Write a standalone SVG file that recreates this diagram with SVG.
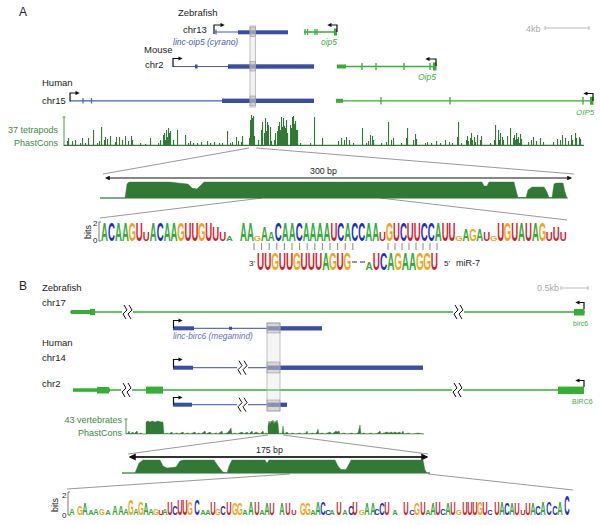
<svg xmlns="http://www.w3.org/2000/svg" xmlns:xlink="http://www.w3.org/1999/xlink" width="600" height="525" viewBox="0 0 600 525">
<style>
text{font-family:"Liberation Sans",Arial,sans-serif}
.lbl{font-size:9.5px;fill:#222}
.pl{font-size:12px;fill:#222}
.gn{font-size:8.5px;fill:#3cb03c;font-style:italic}
.ln{font-size:8.5px;fill:#4a5bb0;font-style:italic}
.trk{font-size:9px;fill:#3d8a3d;text-anchor:end}
.sc{font-size:9px;fill:#aaa}
.bl{fill:#3a4ea5}
.bline{stroke:#4a5db0;stroke-width:1.2;fill:none}
.gr{fill:#33b033}
.gline{stroke:#33b033;stroke-width:1.3;fill:none}
.prom{stroke:#111;stroke-width:1.2;fill:none}
.zl{stroke:#999;stroke-width:1;fill:none}
.dk{fill:#317a35;stroke:#317a35;stroke-width:0.4}
.sp{fill:#317a35}
.lg{font-weight:bold;text-anchor:middle}
.la{fill:#2faa3a}.lc{fill:#1f2fc0}.lgg{fill:#f2a51a}.lu{fill:#d31c2c}
.tick{stroke:#888;stroke-width:1}
</style>
<defs>
<marker id="ar" viewBox="0 0 10 10" refX="6" refY="5" markerWidth="3.5" markerHeight="3.5" orient="auto"><path d="M0,0 L10,5 L0,10 z" fill="#111"/></marker>
<marker id="ab" viewBox="0 0 10 10" refX="8" refY="5" markerWidth="4" markerHeight="4" orient="auto-start-reverse"><path d="M0,0 L10,5 L0,10 z" fill="#111"/></marker>
<g id="brk"><rect x="-6" y="-2" width="11" height="4" fill="#fff"/><path d="M-4,-7 L-1,-2 L-5,2 L-2,7 M1,-7 L4,-2 L0,2 L3,7" stroke="#111" stroke-width="1" fill="none"/></g>
</defs>

<g id="panelA-labels">
<text class="pl" x="19" y="16">A</text>
<text class="lbl" x="178" y="16">Zebrafish</text>
<text class="lbl" x="183" y="33">chr13</text>
<text class="ln" x="173" y="45">linc-oip5 (cyrano)</text>
<text class="lbl" x="144" y="53">Mouse</text>
<text class="lbl" x="145" y="68">chr2</text>
<text class="lbl" x="42" y="86">Human</text>
<text class="lbl" x="42" y="104">chr15</text>
<text class="sc" x="526" y="31.5">4kb</text>
<path d="M545,28 H589 M545,26 V30 M589,26 V30" stroke="#aaa" stroke-width="0.8"/>
</g>

<g id="zf-cyrano">
<path class="bline" d="M215,32 H238 M216,29.5 V34.5"/>
<rect class="bl" x="238" y="30.3" width="50" height="4"/>
<path class="prom" d="M214,34 V25 H223" marker-end="url(#ar)"/>
</g>
<g id="zf-oip5">
<path class="gline" d="M304,32 H336 M305,29 V35 M307.5,29 V35 M315,29 V35 M317,29 V35"/>
<rect class="gr" x="334" y="28.5" width="3" height="7"/>
<path class="prom" d="M337,32 V25 H329" marker-end="url(#ar)"/>
<text class="gn" x="321" y="45">oip5</text>
</g>
<g id="mm-cyrano">
<path class="bline" d="M173,66.5 H228"/>
<rect class="bl" x="195" y="64.5" width="2.5" height="4"/>
<rect class="bl" x="228" y="64.3" width="86" height="4.4"/>
<path class="prom" d="M173,67 V58.5 H181" marker-end="url(#ar)"/>
</g>
<g id="mm-oip5">
<path class="gline" d="M337,66.5 H436 M362,63 V70 M376,63 V70 M404,63 V70 M430,63 V70"/>
<rect class="gr" x="337" y="64.5" width="9" height="4"/>
<rect class="gr" x="433" y="62.5" width="3.5" height="8"/>
<path class="prom" d="M436,66 V59 H427" marker-end="url(#ar)"/>
<text class="gn" x="418" y="80">Oip5</text>
</g>
<g id="hs-cyrano">
<path class="bline" d="M70,100.8 H222 M83,98 V103.5 M91.5,98 V103.5"/>
<rect class="bl" x="222" y="98.6" width="92" height="4.4"/>
<path class="prom" d="M70,101.5 V93 H78" marker-end="url(#ar)"/>
</g>
<g id="hs-oip5">
<path class="gline" d="M336,100.8 H593 M381,97 V104.5 M450,97 V104.5 M583,97 V104.5"/>
<rect class="gr" x="336" y="98.8" width="7" height="4"/>
<rect class="gr" x="590" y="96.8" width="3.5" height="8"/>
<path class="prom" d="M593,101 V93.5 H585" marker-end="url(#ar)"/>
<text class="gn" x="576" y="115" style="font-size:8px">OIP5</text>
</g>
<g id="colA">
<rect x="250" y="26" width="5.5" height="81" fill="#e2e2e2" fill-opacity="0.45" stroke="#aaa" stroke-width="0.7"/>
<rect x="250" y="27" width="5.5" height="9.5" fill="#aaa" fill-opacity="0.45" stroke="#999" stroke-width="0.6"/>
<rect x="250" y="61.5" width="5.5" height="9.5" fill="#aaa" fill-opacity="0.45" stroke="#999" stroke-width="0.6"/>
<rect x="250" y="96" width="5.5" height="9.5" fill="#aaa" fill-opacity="0.45" stroke="#999" stroke-width="0.6"/>
</g>

<g id="trackA">
<text class="trk" x="58" y="133">37 tetrapods</text>
<text class="trk" x="58" y="146">PhastCons</text>
<path d="M64,117 V146 M62.5,117 H65.5" stroke="#3d8a3d" stroke-width="0.9"/>
<path class="sp" d="M64 146V144.8H584V146z M67 146V141h1.1V146z M68 146V138h1.1V146z M72 146V141h1.1V146z M75 146V140h1.1V146z M80 146V143h1.1V146z M82 146V138h1.1V146z M85 146V143h1.1V146z M88 146V138h1.1V146z M93 146V130h1.1V146z M97 146V143h1.1V146z M99 146V141h1.1V146z M101 146V127h1.1V146z M104 146V140h1.1V146z M105 146V137h1.1V146z M107 146V139h1.1V146z M110 146V136h1.1V146z M115 146V142h1.1V146z M116 146V137h1.1V146z M119 146V137h1.1V146z M122 146V140h1.1V146z M125 146V136h1.1V146z M128 146V141h1.1V146z M131 146V136h1.1V146z M132 146V140h1.1V146z M140 146V143h1.1V146z M145 146V144h1.1V146z M150 146V138h1.1V146z M158 146V143h1.1V146z M160 146V140h1.1V146z M163 146V135h1.1V146z M164 146V133h1.1V146z M165 146V140h1.1V146z M166 146V130h1.1V146z M167 146V137h1.1V146z M168 146V128h1.1V146z M169 146V133h1.1V146z M170 146V131h1.1V146z M173 146V140h1.1V146z M177 146V130h1.1V146z M185 146V135h1.1V146z M188 146V143h1.1V146z M190 146V141h1.1V146z M193 146V143h1.1V146z M197 146V143h1.1V146z M201 146V142h1.1V146z M207 146V141h1.1V146z M210 146V143h1.1V146z M214 146V142h1.1V146z M219 146V143h1.1V146z M222 146V143h1.1V146z M227 146V131h1.1V146z M230 146V143h1.1V146z M232 146V142h1.1V146z M236 146V137h1.1V146z M238 146V141h1.1V146z M241 146V142h1.1V146z M242 146V136h1.1V146z M249 146V138h1.1V146z M250 146V120h1.1V146z M251 146V115h1.1V146z M252 146V118h1.1V146z M253 146V116h1.1V146z M254 146V136h1.1V146z M258 146V140h1.1V146z M261 146V130h1.1V146z M262 146V122h1.1V146z M264 146V133h1.1V146z M265 146V118h1.1V146z M266 146V131h1.1V146z M267 146V122h1.1V146z M268 146V125h1.1V146z M270 146V127h1.1V146z M271 146V141h1.1V146z M274 146V140h1.1V146z M275 146V133h1.1V146z M277 146V131h1.1V146z M278 146V126h1.1V146z M279 146V122h1.1V146z M280 146V130h1.1V146z M281 146V117h1.1V146z M282 146V127h1.1V146z M283 146V118h1.1V146z M284 146V126h1.1V146z M285 146V128h1.1V146z M286 146V120h1.1V146z M287 146V133h1.1V146z M290 146V125h1.1V146z M291 146V128h1.1V146z M292 146V117h1.1V146z M293 146V116h1.1V146z M294 146V124h1.1V146z M295 146V121h1.1V146z M296 146V130h1.1V146z M297 146V130h1.1V146z M300 146V143h1.1V146z M310 146V143h1.1V146z M314 146V117h1.1V146z M322 146V138h1.1V146z M338 146V141h1.1V146z M341 146V138h1.1V146z M344 146V140h1.1V146z M346 146V137h1.1V146z M349 146V140h1.1V146z M353 146V143h1.1V146z M362 146V128h1.1V146z M366 146V143h1.1V146z M368 146V141h1.1V146z M370 146V135h1.1V146z M372 146V136h1.1V146z M373 146V140h1.1V146z M381 146V143h1.1V146z M386 146V142h1.1V146z M388 146V122h1.1V146z M391 146V140h1.1V146z M393 146V138h1.1V146z M401 146V143h1.1V146z M406 146V138h1.1V146z M407 146V128h1.1V146z M413 146V140h1.1V146z M415 146V134h1.1V146z M416 146V139h1.1V146z M425 146V143h1.1V146z M427 146V142h1.1V146z M431 146V143h1.1V146z M436 146V141h1.1V146z M440 146V143h1.1V146z M445 146V140h1.1V146z M449 146V142h1.1V146z M452 146V143h1.1V146z M457 146V137h1.1V146z M458 146V122h1.1V146z M461 146V143h1.1V146z M466 146V140h1.1V146z M467 146V136h1.1V146z M468 146V141h1.1V146z M470 146V138h1.1V146z M471 146V133h1.1V146z M472 146V140h1.1V146z M474 146V137h1.1V146z M475 146V142h1.1V146z M477 146V135h1.1V146z M480 146V140h1.1V146z M481 146V136h1.1V146z M490 146V143h1.1V146z M494 146V140h1.1V146z M495 146V125h1.1V146z M498 146V130h1.1V146z M499 146V140h1.1V146z M500 146V133h1.1V146z M502 146V137h1.1V146z M503 146V140h1.1V146z M507 146V136h1.1V146z M510 146V128h1.1V146z M513 146V138h1.1V146z M514 146V135h1.1V146z M515 146V140h1.1V146z M516 146V133h1.1V146z M517 146V139h1.1V146z M518 146V137h1.1V146z M519 146V143h1.1V146z M520 146V134h1.1V146z M521 146V139h1.1V146z M528 146V142h1.1V146z M531 146V140h1.1V146z M533 146V137h1.1V146z M536 146V141h1.1V146z M540 146V138h1.1V146z M543 146V142h1.1V146z M553 146V142h1.1V146z M557 146V139h1.1V146z M560 146V140h1.1V146z M562 146V135h1.1V146z M565 146V138h1.1V146z M568 146V141h1.1V146z M571 146V135h1.1V146z M572 146V140h1.1V146z M575 146V133h1.1V146z M576 146V138h1.1V146z M579 146V137h1.1V146z M580 146V139h1.1V146z"/>
</g>

<g id="connectors">
<path class="zl" d="M249,148 L103,174 M256,148 L574,174 M100,218 L262,198 M380,198 L567,220"/>
<path class="zl" d="M268,435 L128,454 M283,435 L428,454 M67,489 L290,474 M428,474 L573,490"/>
<line x1="106" y1="178" x2="571" y2="178" stroke="#111" stroke-width="1.2" marker-start="url(#ab)" marker-end="url(#ab)"/>
<line x1="130" y1="457" x2="427" y2="457" stroke="#333" stroke-width="1.8" marker-start="url(#ab)" marker-end="url(#ab)"/>
<g id="pairs">
<path class="tick" d="M254,243 V250 M261.6,243 V250 M269.2,243 V250 M276.8,243 V250 M284.4,243 V250 M292,243 V250 M299.6,243 V250 M307.2,243 V250 M314.8,243 V250 M322.4,243 V250 M330,243 V250 M337.6,243 V250 M345.2,243 V250 M352.8,243 V250 M388,243 V250 M395,243 V250 M402,243 V250 M409,243 V250 M416,243 V250 M423,243 V250 M430,243 V250 M437,243 V250"/>
</g>
</g>

<g id="zoomA">
<text x="310" y="174" style="font-size:8.8px;fill:#222">300 bp</text>
<line x1="100" y1="198" x2="568" y2="198" stroke="#317a35" stroke-width="0.8"/>
<path class="dk" d="M100,198 L125,198 L127,184 L129,182 L170,182 L178,183 L188,184 L192,188 L197,189 L201,185 L204,182 L482,182 L484,186 L487,186 L489,182 L514,182 L516,190 L518,197.5 L526,197.5 L528,190 L532,187 L544,187 L547,192 L549,197.5 L552,197.5 L554,184 L556,183 L563,183 L565,192 L567,198 Z"/>
</g>

<g id="logoA">
<text x="91" y="232" transform="rotate(-90 91 232)" style="font-size:9px;fill:#222;text-anchor:middle">bits</text>
<text x="93" y="226" style="font-size:8px;fill:#222">2</text>
<text x="93" y="243" style="font-size:8px;fill:#222">0</text>
<path d="M99,222 V241 M99,222 H101 M99,241 H101" stroke="#444" stroke-width="0.7" fill="none"/>
<text class="lg" transform="translate(0,241) scale(1,2.77)" style="font-size:9.6px"><tspan class="la" x="104.5" y="0">A</tspan><tspan class="lc" x="111.5" y="0">C</tspan><tspan class="la" x="118.4" y="0">A</tspan><tspan class="la" x="125.4" y="0">A</tspan><tspan class="lgg" x="132.3" y="0">G</tspan><tspan class="lu" x="139.3" y="0">U</tspan><tspan class="la" x="153.2" y="0">A</tspan><tspan class="lc" x="160.1" y="0">C</tspan><tspan class="la" x="167.1" y="0">A</tspan><tspan class="la" x="174" y="0">A</tspan><tspan class="lgg" x="181" y="0">G</tspan><tspan class="lu" x="187.9" y="0">U</tspan><tspan class="lu" x="194.9" y="0">U</tspan><tspan class="lgg" x="201.8" y="0">G</tspan><tspan class="lu" x="208.8" y="0">U</tspan><tspan class="la" x="243.5" y="0">A</tspan><tspan class="la" x="250.5" y="0">A</tspan><tspan class="lc" x="278.3" y="0">C</tspan><tspan class="la" x="285.2" y="0">A</tspan><tspan class="la" x="292.2" y="0">A</tspan><tspan class="lc" x="299.1" y="0">C</tspan><tspan class="la" x="306.1" y="0">A</tspan><tspan class="la" x="313" y="0">A</tspan><tspan class="la" x="320" y="0">A</tspan><tspan class="la" x="326.9" y="0">A</tspan><tspan class="lu" x="333.9" y="0">U</tspan><tspan class="lc" x="340.8" y="0">C</tspan><tspan class="la" x="347.8" y="0">A</tspan><tspan class="lc" x="354.7" y="0">C</tspan><tspan class="lc" x="361.7" y="0">C</tspan><tspan class="la" x="368.6" y="0">A</tspan><tspan class="la" x="375.6" y="0">A</tspan><tspan class="lgg" x="389.5" y="0">G</tspan><tspan class="lu" x="396.4" y="0">U</tspan><tspan class="lc" x="403.4" y="0">C</tspan><tspan class="lu" x="410.3" y="0">U</tspan><tspan class="lu" x="417.3" y="0">U</tspan><tspan class="lc" x="424.2" y="0">C</tspan><tspan class="lc" x="431.2" y="0">C</tspan><tspan class="la" x="438.1" y="0">A</tspan><tspan class="lu" x="445.1" y="0">U</tspan><tspan class="lu" x="452" y="0">U</tspan><tspan class="lu" x="500.7" y="0">U</tspan><tspan class="lgg" x="507.6" y="0">G</tspan><tspan class="lu" x="514.6" y="0">U</tspan><tspan class="la" x="521.5" y="0">A</tspan><tspan class="lu" x="528.5" y="0">U</tspan><tspan class="la" x="535.4" y="0">A</tspan><tspan class="lgg" x="542.4" y="0">G</tspan></text>
<text class="lg" transform="translate(0,241) scale(1,2.2)" style="font-size:9.6px"><tspan class="lu" x="215.7" y="0">U</tspan><tspan class="la" x="264.4" y="0">A</tspan><tspan class="lu" x="556.3" y="0">U</tspan></text>
<text class="lg" transform="translate(0,241) scale(1,1.8)" style="font-size:9.6px"><tspan class="la" x="465.9" y="0">A</tspan><tspan class="lgg" x="472.9" y="0">G</tspan><tspan class="la" x="479.8" y="0">A</tspan></text>
<text class="lg" transform="translate(0,241) scale(1,1.25)" style="font-size:9.6px"><tspan class="lu" x="146.2" y="0">U</tspan><tspan class="lu" x="222.7" y="0">U</tspan><tspan class="la" x="271.3" y="0">A</tspan><tspan class="lu" x="382.5" y="0">U</tspan><tspan class="lu" x="486.8" y="0">U</tspan><tspan class="lu" x="549.3" y="0">U</tspan><tspan class="lu" x="563.2" y="0">U</tspan></text>
<text class="lg" transform="translate(0,241) scale(1,0.7)" style="font-size:9.6px"><tspan class="la" x="229.6" y="0">A</tspan><tspan class="lgg" x="257.4" y="0">G</tspan><tspan class="lgg" x="459" y="0">G</tspan><tspan class="lgg" x="493.7" y="0">G</tspan></text>
</g>

<g id="mir7">
<text x="249" y="266" style="font-size:8px;fill:#222">3'</text>
<text class="lg" transform="translate(0,270) scale(1,2.37)" style="font-size:10px"><tspan class="lu" x="260.6" y="0">U</tspan><tspan class="lu" x="267.8" y="0">U</tspan><tspan class="lgg" x="275.1" y="0">G</tspan><tspan class="lu" x="282.3" y="0">U</tspan><tspan class="lu" x="289.6" y="0">U</tspan><tspan class="lgg" x="296.8" y="0">G</tspan><tspan class="lu" x="304" y="0">U</tspan><tspan class="lu" x="311.3" y="0">U</tspan><tspan class="lu" x="318.5" y="0">U</tspan><tspan class="la" x="325.8" y="0">A</tspan><tspan class="lgg" x="333" y="0">G</tspan><tspan class="lu" x="340.2" y="0">U</tspan><tspan class="lgg" x="347.5" y="0">G</tspan><tspan class="lu" x="376.4" y="0">U</tspan><tspan class="lc" x="383.7" y="0">C</tspan><tspan class="la" x="390.9" y="0">A</tspan><tspan class="lgg" x="398.2" y="0">G</tspan><tspan class="la" x="405.4" y="0">A</tspan><tspan class="la" x="412.6" y="0">A</tspan><tspan class="lgg" x="419.9" y="0">G</tspan><tspan class="lgg" x="427.1" y="0">G</tspan><tspan class="lu" x="434.4" y="0">U</tspan></text>
<text class="lg" transform="translate(0,270) scale(1,1.1)" style="font-size:10px"><tspan class="la" x="369.2" y="0">A</tspan></text>
<path d="M352,262 H357 M360,262 H365" stroke="#333" stroke-width="1.2"/>
<text x="444" y="266" style="font-size:8px;fill:#222">5'</text>
<text x="456" y="266" style="font-size:9px;fill:#222">miR-7</text>
</g>

<g id="panelB-labels">
<text class="pl" x="19" y="290">B</text>
<text class="lbl" x="42" y="291">Zebrafish</text>
<text class="lbl" x="42" y="306">chr17</text>
<text class="lbl" x="42" y="346">Human</text>
<text class="lbl" x="42" y="361">chr14</text>
<text class="lbl" x="42" y="387">chr2</text>
<text class="sc" x="537" y="291">0.5kb</text>
<path d="M561,288 H588 M561,286 V290 M588,286 V290" stroke="#aaa" stroke-width="0.8"/>
</g>

<g id="zf-birc6">
<path class="gline" d="M70,312 H585"/>
<rect class="gr" x="71" y="310" width="23" height="4"/>
<rect class="gr" x="90" y="308.8" width="5" height="6.4"/>
<use xlink:href="#brk" x="128" y="312"/>
<use xlink:href="#brk" x="459" y="312"/>
<rect class="gr" x="574" y="309" width="10.5" height="6.5"/>
<path class="prom" d="M584,309 V302.5 H577" marker-end="url(#ar)"/>
<text class="gn" x="573" y="326" style="font-size:7px;font-style:normal">birc6</text>
</g>
<g id="zf-megamind">
<path class="bline" d="M194,328.3 H267" style="stroke:#6070c0"/>
<rect class="bl" x="229" y="326.8" width="3" height="3"/>
<rect class="bl" x="173" y="326.3" width="21" height="4"/>
<rect class="bl" x="267" y="326.2" width="55" height="4.3"/>
<path class="prom" d="M173.5,328 V320.5 H181" marker-end="url(#ar)"/>
<text class="ln" x="173" y="339" style="font-size:8.3px;fill:#6070c0">linc-birc6 (megamind)</text>
</g>
<g id="hs-megamind-chr14">
<path class="bline" d="M193,367.7 H267" style="stroke:#6070c0"/>
<rect class="bl" x="173" y="365.7" width="20" height="4"/>
<rect class="bl" x="267" y="365.5" width="156" height="4.4"/>
<use xlink:href="#brk" x="243" y="367.7"/>
<path class="prom" d="M173.5,367.5 V359.5 H181" marker-end="url(#ar)"/>
</g>
<g id="hs-birc6">
<path class="gline" d="M73,390 H584"/>
<rect class="gr" x="73" y="388.3" width="37" height="3.5"/>
<rect class="gr" x="97" y="387" width="12" height="6.5"/>
<use xlink:href="#brk" x="127" y="390"/>
<rect class="gr" x="146" y="386.6" width="17" height="7"/>
<use xlink:href="#brk" x="458" y="390"/>
<rect class="gr" x="558" y="386.6" width="26" height="7.4"/>
<path class="prom" d="M584,387 V380.5 H577" marker-end="url(#ar)"/>
<text class="gn" x="572" y="404" style="font-size:7px;font-style:normal">BIRC6</text>
</g>
<g id="hs-megamind-chr2">
<path class="bline" d="M192,404.7 H267" style="stroke:#6070c0"/>
<rect class="bl" x="173" y="402.7" width="19" height="4"/>
<rect class="bl" x="267" y="402.6" width="20" height="4.3"/>
<use xlink:href="#brk" x="243" y="404.7"/>
<path class="prom" d="M173.5,404.5 V397.5 H181" marker-end="url(#ar)"/>
</g>
<g id="colB">
<rect x="267" y="323" width="13" height="88" fill="#e2e2e2" fill-opacity="0.35" stroke="#aaa" stroke-width="0.7"/>
<rect x="267" y="323" width="13" height="10" fill="#aaa" fill-opacity="0.4" stroke="#999" stroke-width="0.6"/>
<rect x="267" y="362" width="13" height="11" fill="#aaa" fill-opacity="0.4" stroke="#999" stroke-width="0.6"/>
<rect x="267" y="400" width="13" height="11" fill="#aaa" fill-opacity="0.4" stroke="#999" stroke-width="0.6"/>
</g>

<g id="trackB">
<text class="trk" x="122" y="423">43 vertebrates</text>
<text class="trk" x="122" y="436">PhastCons</text>
<path d="M126,419 V434 M124.5,419 H127.5" stroke="#3d8a3d" stroke-width="0.9"/>
<path class="dk" d="M126,434 L128,433 129,431 130,434 133,432 134,434 137,431 138,434 141,433 143,434 146,434 146,422 148,421 150,422 152,421 155,422 158,421 161,422 163,422 164,434 167,433 169,434 172,432 173,434 177,433 179,434 183,432 184,434 188,433 190,434 195,432 196,434 199,433 201,434 205,431 206,434 210,432 212,434 216,433 218,434 222,431 223,434 227,433 229,431 231,428 232,434 235,433 237,434 242,432 244,434 247,432 249,434 252,431 253,434 256,432 258,433 260,434 263,431 264,434 266,433 268,434 268,426 269,421 270,424 271,421 272,422 273,420 274,424 275,421 276,423 277,420 278,424 279,434 281,433 282,434 283,426 284,434 287,432 289,434 293,433 295,434 300,433 302,434 306,433 307,431 308,434 313,433 315,434 317,432 318,429 319,434 322,433 325,434 330,432 332,434 336,431 337,432 339,431 340,434 344,433 347,434 352,433 354,434 358,433 360,425 361,434 364,433 367,434 371,433 374,434 378,433 380,431 381,434 384,433 387,432 389,433 391,432 393,433 395,432 397,433 400,432 401,434 403,431 404,434 408,433 412,434 418,433 424,434 Z"/>
</g>

<g id="zoomB">
<text x="256" y="453" style="font-size:8.8px;fill:#222">175 bp</text>
<line x1="122" y1="473" x2="430" y2="473" stroke="#317a35" stroke-width="0.8"/>
<path class="dk" d="M122,473 L135,473 L139,463 L143,460 L160,460 L163,466 L167,468 L176,467 L180,461 L183,460 L214,460 L218,466 L223,472 L227,473 L229,466 L232,460 L265,460 L267,463 L269,460 L335,460 L338,466 L341,469.5 L346,469.5 L349,464 L351,460 L423,460 L425,470 L427,473 L430,473 Z"/>
</g>

<g id="logoB">
<text x="58" y="505" transform="rotate(-90 58 505)" style="font-size:9px;fill:#222;text-anchor:middle">bits</text>
<text x="62" y="498" style="font-size:8px;fill:#222">2</text>
<text x="62" y="518" style="font-size:8px;fill:#222">0</text>
<path d="M68,492 V515 M68,492 H70 M68,515 H70" stroke="#444" stroke-width="0.7" fill="none"/>
<text class="lg" transform="translate(0,515) scale(1,3.64)" style="font-size:7.5px"><tspan class="lc" x="567" y="0">C</tspan></text>
<text class="lg" transform="translate(0,515) scale(1,3.0)" style="font-size:7.5px"><tspan class="lgg" x="131" y="0">G</tspan><tspan class="lu" x="180" y="0">U</tspan><tspan class="lu" x="185" y="0">U</tspan><tspan class="lc" x="197" y="0">C</tspan></text>
<text class="lg" transform="translate(0,515) scale(1,2.57)" style="font-size:7.5px"><tspan class="lgg" x="141" y="0">G</tspan><tspan class="lu" x="170" y="0">U</tspan><tspan class="lgg" x="190" y="0">G</tspan><tspan class="lu" x="213" y="0">U</tspan><tspan class="lu" x="229" y="0">U</tspan><tspan class="la" x="251" y="0">A</tspan><tspan class="lu" x="257" y="0">U</tspan><tspan class="la" x="318" y="0">A</tspan><tspan class="lc" x="323" y="0">C</tspan><tspan class="lu" x="339" y="0">U</tspan><tspan class="lu" x="355" y="0">U</tspan><tspan class="lu" x="387" y="0">U</tspan><tspan class="lu" x="406" y="0">U</tspan><tspan class="lu" x="423" y="0">U</tspan><tspan class="lu" x="438" y="0">U</tspan><tspan class="lu" x="453" y="0">U</tspan><tspan class="lu" x="465" y="0">U</tspan><tspan class="lu" x="470" y="0">U</tspan><tspan class="lu" x="475" y="0">U</tspan><tspan class="lgg" x="480" y="0">G</tspan><tspan class="lu" x="485" y="0">U</tspan><tspan class="lu" x="497" y="0">U</tspan><tspan class="la" x="502" y="0">A</tspan><tspan class="la" x="543" y="0">A</tspan><tspan class="lc" x="549" y="0">C</tspan><tspan class="la" x="560" y="0">A</tspan></text>
<text class="lg" transform="translate(0,515) scale(1,2.14)" style="font-size:7.5px"><tspan class="la" x="85" y="0">A</tspan><tspan class="la" x="146" y="0">A</tspan><tspan class="lgg" x="235" y="0">G</tspan><tspan class="lgg" x="240" y="0">G</tspan><tspan class="la" x="267" y="0">A</tspan><tspan class="lu" x="272" y="0">U</tspan><tspan class="la" x="282" y="0">A</tspan><tspan class="lu" x="288" y="0">U</tspan><tspan class="lgg" x="303" y="0">G</tspan><tspan class="lgg" x="308" y="0">G</tspan><tspan class="la" x="367" y="0">A</tspan><tspan class="la" x="373" y="0">A</tspan><tspan class="lc" x="382" y="0">C</tspan><tspan class="lgg" x="417" y="0">G</tspan><tspan class="la" x="433" y="0">A</tspan><tspan class="la" x="448" y="0">A</tspan><tspan class="lc" x="507" y="0">C</tspan><tspan class="la" x="512" y="0">A</tspan><tspan class="lu" x="517" y="0">U</tspan><tspan class="lu" x="528" y="0">U</tspan><tspan class="la" x="533" y="0">A</tspan></text>
<text class="lg" transform="translate(0,515) scale(1,1.71)" style="font-size:7.5px"><tspan class="lgg" x="80" y="0">G</tspan><tspan class="la" x="115" y="0">A</tspan><tspan class="la" x="121" y="0">A</tspan><tspan class="lc" x="175" y="0">C</tspan><tspan class="lc" x="223" y="0">C</tspan><tspan class="lc" x="351" y="0">C</tspan><tspan class="lc" x="538" y="0">C</tspan><tspan class="lc" x="555" y="0">C</tspan></text>
<text class="lg" transform="translate(0,515) scale(1,1.28)" style="font-size:7.5px"><tspan class="la" x="72" y="0">A</tspan><tspan class="la" x="96" y="0">A</tspan><tspan class="lgg" x="102" y="0">G</tspan><tspan class="la" x="126" y="0">A</tspan><tspan class="la" x="136" y="0">A</tspan><tspan class="la" x="151" y="0">A</tspan><tspan class="lgg" x="156" y="0">G</tspan><tspan class="la" x="165" y="0">A</tspan><tspan class="lgg" x="218" y="0">G</tspan><tspan class="lc" x="377" y="0">C</tspan><tspan class="lc" x="443" y="0">C</tspan></text>
<text class="lg" transform="translate(0,515) scale(1,0.86)" style="font-size:7.5px"><tspan class="la" x="91" y="0">A</tspan><tspan class="la" x="108" y="0">A</tspan><tspan class="lu" x="161" y="0">U</tspan><tspan class="la" x="203" y="0">A</tspan><tspan class="la" x="208" y="0">A</tspan><tspan class="la" x="245" y="0">A</tspan><tspan class="la" x="262" y="0">A</tspan><tspan class="lu" x="294" y="0">U</tspan><tspan class="la" x="313" y="0">A</tspan><tspan class="lc" x="328" y="0">C</tspan><tspan class="la" x="332" y="0">A</tspan><tspan class="la" x="345" y="0">A</tspan><tspan class="lgg" x="362" y="0">G</tspan><tspan class="la" x="395" y="0">A</tspan><tspan class="lc" x="412" y="0">C</tspan><tspan class="la" x="428" y="0">A</tspan><tspan class="lgg" x="459" y="0">G</tspan><tspan class="lc" x="490" y="0">C</tspan><tspan class="lu" x="523" y="0">U</tspan></text>
</g>
</svg>
